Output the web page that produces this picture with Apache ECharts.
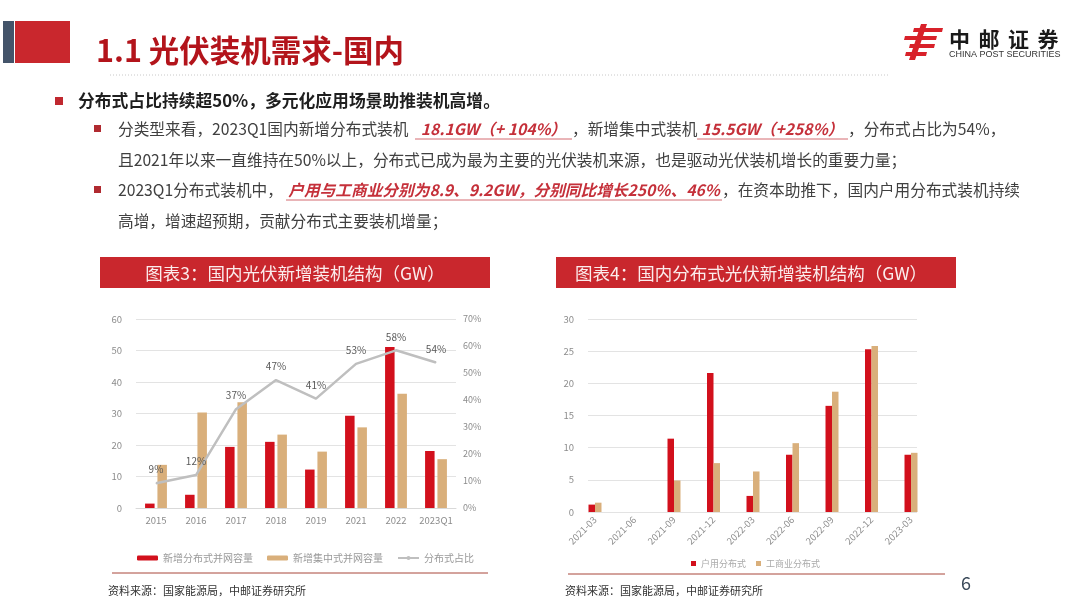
<!DOCTYPE html>
<html><head><meta charset="utf-8">
<script src="https://cdn.jsdelivr.net/npm/echarts@6/dist/echarts.min.js"></script>
<style>html,body{margin:0;padding:0;background:#fff}#c{width:1080px;height:608px}</style>
</head><body><div id="c"></div>
<script>
// ---------- data ----------
const years = ['2015','2016','2017','2018','2019','2021','2022','2023Q1'];
const distributed = [1.4, 4.2, 19.4, 21.0, 12.2, 29.3, 51.1, 18.1];
const centralized = [13.7, 30.3, 33.6, 23.3, 17.9, 25.6, 36.3, 15.5];
const distShare = [9.2, 12.2, 36.6, 47.4, 40.5, 53.4, 58.4, 53.9];

const quarters = ['2021-03','2021-06','2021-09','2021-12','2022-03','2022-06','2022-09','2022-12','2023-03'];
const household = [1.15, null, 11.4, 21.6, 2.5, 8.9, 16.5, 25.3, 8.9];
const commercial = [1.45, null, 4.9, 7.6, 6.3, 10.7, 18.7, 25.8, 9.2];

// ---------- styles ----------
const FONT = '"Noto Sans CJK SC","Microsoft YaHei",sans-serif';
const RED = '#d2101c', TAN = '#d9af7b', GREY_LINE = '#bfbfbf';
const TXT = '#404040', HRED = '#c5303a';
const AX = '#8c8c8c';

const mctx = document.createElement('canvas').getContext('2d');
function measure(t, size, weight, style) {
  mctx.font = (style || 'normal') + ' ' + (weight || 'normal') + ' ' + size + 'px ' + FONT;
  return mctx.measureText(t).width;
}
function textEl(t, x, y, size, color, opts) {
  opts = opts || {};
  return { type: 'text', z: 100, style: {
    text: t, x: x, y: y, fill: color,
    font: (opts.style || 'normal') + ' ' + (opts.weight || 'normal') + ' ' + size + 'px ' + (opts.family || FONT),
    textAlign: opts.align || 'left', align: opts.align || 'left',
    textVerticalAlign: 'middle', verticalAlign: 'middle'
  }};
}
// segments: t = text, h = highlighted, x = optional start x, e = optional underline end x
function richLine(x, y, segs, size) {
  const out = []; let cx = x;
  segs.forEach(s => {
    const hl = !!s.h;
    if (s.x != null) cx = s.x;
    const w = measure(s.t, size, hl ? 'bold' : 'normal', hl ? 'italic' : 'normal');
    const end = s.e != null ? s.e : cx + w;
    const tx = s.e != null ? cx + Math.max(0, (end - cx - w) / 2) : cx;
    out.push(textEl(s.t, tx, y, size, hl ? HRED : TXT, { weight: hl ? 'bold' : 'normal', style: hl ? 'italic' : 'normal' }));
    if (hl) out.push({ type: 'line', z: 100, shape: { x1: cx, y1: y + 10, x2: end, y2: y + 10 }, style: { stroke: '#d46a70', lineWidth: 1 } });
    cx = end;
  });
  return out;
}

const G = [];
// header
G.push({ type: 'rect', shape: { x: 3, y: 21, width: 11, height: 42 }, style: { fill: '#44546a' } });
G.push({ type: 'rect', shape: { x: 15, y: 21, width: 55, height: 42 }, style: { fill: '#c9272d' } });
G.push(textEl('1.1 光伏装机需求-国内', 96, 50, 30.5, '#b3141b', { weight: 'bold' }));
G.push({ type: 'line', shape: { x1: 110, y1: 75, x2: 890, y2: 75 }, style: { stroke: '#c8c8c8', lineWidth: 1, lineDash: [1, 2] } });
// logo
const LR = '#d8212a';
G.push({ type: 'polygon', shape: { points: [[921,24],[927,24],[915,60],[909,60]] }, style: { fill: LR } });
G.push({ type: 'polygon', shape: { points: [[914,28],[943,28],[942,32],[913,32]] }, style: { fill: LR } });
G.push({ type: 'polygon', shape: { points: [[905,36],[937,36],[936,40],[904,40]] }, style: { fill: LR } });
G.push({ type: 'polygon', shape: { points: [[910,44],[935,44],[934,48],[909,48]] }, style: { fill: LR } });
G.push({ type: 'polygon', shape: { points: [[906,52],[927,52],[926,56],[905,56]] }, style: { fill: LR } });
['中','邮','证','券'].forEach((c, i) => G.push(textEl(c, 949 + i * 29.5, 39, 21, '#1a1a1a', { weight: 'bold' })));
G.push(textEl('CHINA POST SECURITIES', 949, 55, 9, '#333', { family: '"Liberation Sans",Arial,sans-serif' }));

// bullets
G.push({ type: 'rect', shape: { x: 55, y: 97, width: 8, height: 8 }, style: { fill: '#c0282f' } });
G.push(textEl('分布式占比持续超50%，多元化应用场景助推装机高增。', 78, 101, 16.8, '#1f1f1f', { weight: 'bold' }));
G.push({ type: 'rect', shape: { x: 94, y: 125, width: 7, height: 7 }, style: { fill: '#b02a30' } });
G.push({ type: 'rect', shape: { x: 94, y: 186, width: 7, height: 7 }, style: { fill: '#b02a30' } });
const BS = 15.7;
G.push(...richLine(118, 129, [
  { t: '分类型来看，2023Q1国内新增分布式装机' },
  { t: '18.1GW（+ 104%）', h: 1, x: 415, e: 572 },
  { t: '，新增集中式装机' },
  { t: '15.5GW（+258%）', h: 1, x: 697, e: 848 },
  { t: '，分布式占比为54%，' }
], BS));
G.push(...richLine(118, 160, [
  { t: '且2021年以来一直维持在50%以上，分布式已成为最为主要的光伏装机来源，也是驱动光伏装机增长的重要力量；' }
], BS));
G.push(...richLine(118, 190, [
  { t: '2023Q1分布式装机中，' },
  { t: '户用与工商业分别为8.9、9.2GW，分别同比增长250%、46%', h: 1, x: 286, e: 722 },
  { t: '，在资本助推下，国内户用分布式装机持续' }
], BS));
G.push(...richLine(118, 221, [
  { t: '高增，增速超预期，贡献分布式主要装机增量；' }
], BS));

// chart banners
G.push({ type: 'rect', shape: { x: 100, y: 257, width: 390, height: 31 }, style: { fill: '#c9272d' } });
G.push(textEl('图表3：国内光伏新增装机结构（GW）', 295, 273, 17.5, '#fbecec', { align: 'center' }));
G.push({ type: 'rect', shape: { x: 556, y: 257, width: 400, height: 31 }, style: { fill: '#c9272d' } });
G.push(textEl('图表4：国内分布式光伏新增装机结构（GW）', 751, 273, 17.5, '#fbecec', { align: 'center' }));

// footers
G.push({ type: 'line', shape: { x1: 112, y1: 573, x2: 488, y2: 573 }, style: { stroke: '#a8473b', lineWidth: 1 } });
G.push({ type: 'line', shape: { x1: 568, y1: 574, x2: 945, y2: 574 }, style: { stroke: '#a8473b', lineWidth: 1 } });
G.push(textEl('资料来源：国家能源局，中邮证券研究所', 108, 591, 11, '#333'));
G.push(textEl('资料来源：国家能源局，中邮证券研究所', 565, 591, 11, '#333'));
G.push(textEl('6', 966, 583, 18, '#3b4a5a', { align: 'center' }));

const axisLabel = { color: AX, fontSize: 9.5, fontFamily: FONT };

const option = {
  backgroundColor: '#fff',
  animation: false,
  textStyle: { fontFamily: FONT },
  graphic: { elements: G },
  grid: [
    { left: 136, top: 319, width: 320, height: 189 },
    { left: 588, top: 319, width: 329, height: 193 },
    { left: 595, top: 319, width: 316, height: 193 }
  ],
  legend: [
    {
      data: ['新增分布式并网容量', '新增集中式并网容量', '分布式占比'],
      left: 132, top: 548, itemWidth: 21, itemHeight: 5, itemGap: 14,
      textStyle: { color: '#999', fontSize: 10, fontFamily: FONT }
    },
    {
      data: ['户用分布式', '工商业分布式'],
      left: 686, top: 554, itemWidth: 5, itemHeight: 5, itemGap: 10, icon: 'rect',
      textStyle: { color: '#aaa', fontSize: 9, fontFamily: FONT }
    }
  ],
  xAxis: [
    { type: 'category', gridIndex: 0, data: years,
      axisLine: { lineStyle: { color: '#d9d9d9' } }, axisTick: { show: false },
      axisLabel: Object.assign({ margin: 8, interval: 0 }, axisLabel) },
    { type: 'value', gridIndex: 1, show: false, min: 0, max: 1 },
    { type: 'category', gridIndex: 2, data: quarters, boundaryGap: false,
      axisLine: { show: false }, axisTick: { show: false },
      axisLabel: Object.assign({ rotate: 45, margin: 6, interval: 0 }, axisLabel, { fontSize: 9.5 }) }
  ],
  yAxis: [
    { type: 'value', gridIndex: 0, min: 0, max: 60, interval: 10,
      axisLine: { show: false }, axisTick: { show: false },
      axisLabel: Object.assign({ margin: 14 }, axisLabel, { fontSize: 9.5 }),
      splitLine: { lineStyle: { color: '#e3e3e3' } } },
    { type: 'value', gridIndex: 0, position: 'right', min: 0, max: 70, interval: 10,
      axisLine: { show: false }, axisTick: { show: false },
      axisLabel: Object.assign({ margin: 7, formatter: '{value}%' }, axisLabel, { fontSize: 9 }),
      splitLine: { show: false } },
    { type: 'value', gridIndex: 1, min: 0, max: 30, interval: 5,
      axisLine: { show: false }, axisTick: { show: false },
      axisLabel: Object.assign({ margin: 14 }, axisLabel, { fontSize: 9.5 }),
      splitLine: { lineStyle: { color: '#e3e3e3' } } },
    { type: 'value', gridIndex: 2, min: 0, max: 30, show: false, splitLine: { show: false } }
  ],
  series: [
    { name: '新增分布式并网容量', type: 'bar', xAxisIndex: 0, yAxisIndex: 0, data: distributed,
      barWidth: 9.5, barGap: '30%', itemStyle: { color: RED } },
    { name: '新增集中式并网容量', type: 'bar', xAxisIndex: 0, yAxisIndex: 0, data: centralized,
      barWidth: 9.5, barGap: '30%', itemStyle: { color: TAN } },
    { name: '分布式占比', type: 'line', xAxisIndex: 0, yAxisIndex: 1, data: distShare,
      symbol: 'circle', symbolSize: 1, showSymbol: true,
      lineStyle: { color: GREY_LINE, width: 2.5 }, itemStyle: { color: GREY_LINE },
      label: { show: true, position: 'top', distance: 8, color: '#595959', fontSize: 10,
        formatter: p => Math.round(p.value) + '%' } },
    { name: '户用分布式', type: 'bar', xAxisIndex: 2, yAxisIndex: 3, data: household,
      barWidth: 6.5, barGap: '0%', clip: false, itemStyle: { color: RED } },
    { name: '工商业分布式', type: 'bar', xAxisIndex: 2, yAxisIndex: 3, data: commercial,
      barWidth: 6.5, barGap: '0%', clip: false, itemStyle: { color: TAN } }
  ]
};
const chart = echarts.init(document.getElementById('c'), null, { renderer: 'canvas' });
chart.setOption(option);
</script>
</body></html>
